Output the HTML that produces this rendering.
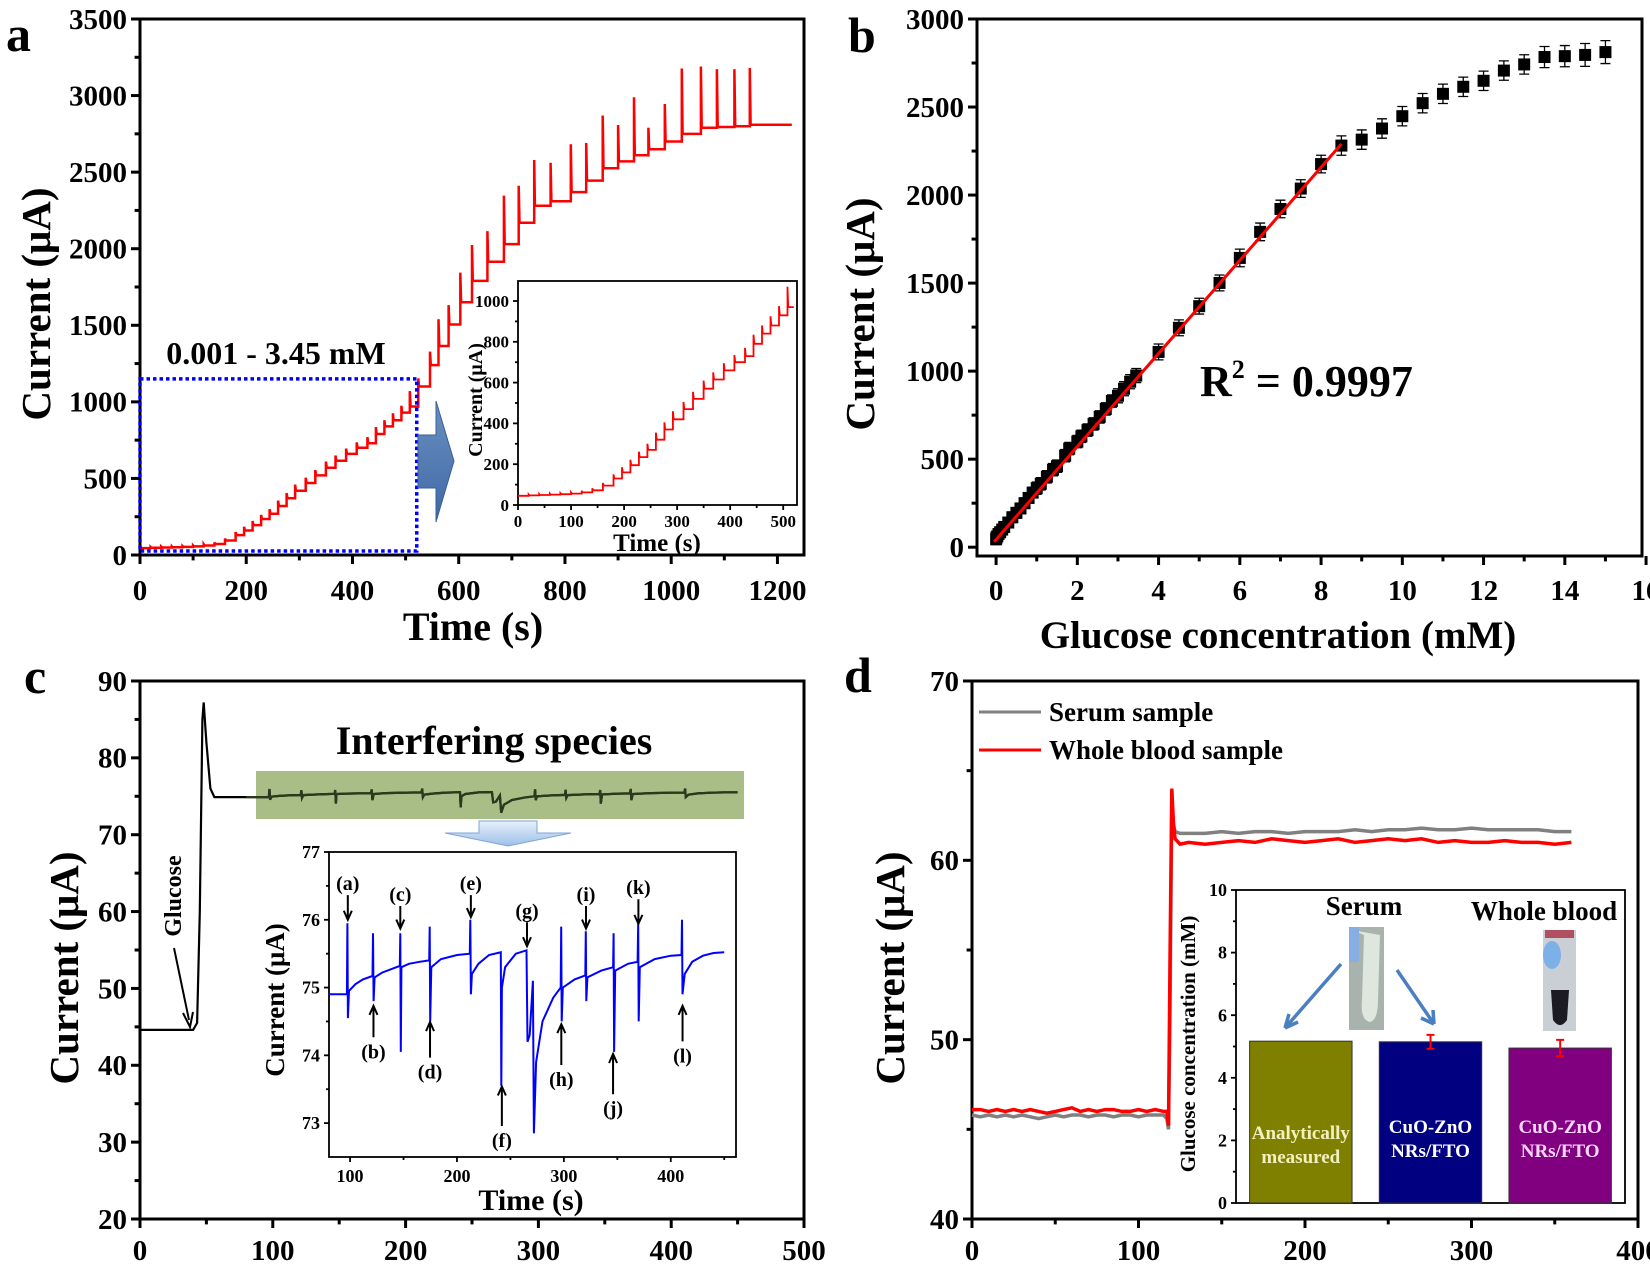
<!DOCTYPE html>
<html><head><meta charset="utf-8"><style>
html,body{margin:0;padding:0;background:#fff;overflow:hidden}
svg{display:block}
text{font-family:"Liberation Serif",serif;font-weight:bold}
</style></head><body>
<svg id="fig" width="1650" height="1267" viewBox="0 0 1650 1267" xmlns="http://www.w3.org/2000/svg">
<defs>
<linearGradient id="ga" x1="0" y1="0" x2="0" y2="1"><stop offset="0" stop-color="#6a8fc0"/><stop offset="1" stop-color="#3f6aa6"/></linearGradient>
<linearGradient id="gc" x1="0" y1="0" x2="0" y2="1"><stop offset="0" stop-color="#e8f1fb"/><stop offset="1" stop-color="#9cc0e8"/></linearGradient>
</defs>
</svg>
<script>
// ---------- Panel a data ----------
const aStepT = [20,40,60,80,100,120,140,160,180,196,212,228,244,260,276,292,312,330,350,368,388,408,428,444,460,476,492,508,524,546,562,581,603,625,654,685,713,742,773,811,840,871,900,930,957,988,1020,1056,1086,1119,1148];
const aLevel = [47,49,51,53,56,62,72,95,130,160,195,235,270,320,370,420,470,520,570,615,660,700,730,790,840,880,930,970,1100,1240,1365,1505,1650,1790,1915,2030,2170,2280,2310,2370,2445,2525,2570,2610,2650,2700,2750,2790,2795,2800,2810];
const aPeak = [52,54,56,58,62,70,82,108,150,185,222,262,300,355,405,460,505,555,610,650,695,735,770,835,880,925,975,1070,1153,1328,1540,1632,1844,2024,2115,2347,2411,2579,2561,2682,2690,2870,2808,2989,2790,2945,3177,3190,3172,3172,3180];
const aStart = [0,45];
const aEnd = [1227,2810];
const aBox = [0,521,26,1150];
const aXTicks = [0,200,400,600,800,1000,1200];
const aYTicks = [0,500,1000,1500,2000,2500,3000,3500];
const aiXTicks = [0,100,200,300,400,500];
const aiYTicks = [0,200,400,600,800,1000];
// ---------- Panel b data ----------
const bX = [0.001,0.01,0.03,0.06,0.1,0.15,0.2,0.3,0.4,0.5,0.6,0.7,0.8,0.9,1.0,1.1,1.25,1.4,1.5,1.7,1.8,2.0,2.1,2.25,2.4,2.55,2.7,2.85,3.0,3.15,3.3,3.45,4,4.5,5,5.5,6,6.5,7,7.5,8,8.5,9,9.5,10,10.5,11,11.5,12,12.5,13,13.5,14,14.5,15];
const bY = [45,55,62,75,85,100,115,140,170,195,220,250,280,310,335,360,400,440,460,520,560,600,630,665,700,740,785,830,860,900,940,975,1109,1246,1369,1501,1643,1791,1921,2037,2176,2281,2315,2378,2448,2522,2575,2615,2649,2707,2742,2784,2789,2796,2812];
const bErr = [30,30,30,30,30,30,30,30,30,30,30,30,30,30,35,35,35,35,35,35,35,35,35,35,35,35,35,35,40,40,40,40,45,45,45,45,50,50,50,50,50,55,55,55,55,55,55,55,55,55,55,60,60,65,65];
const bFitX = [-0.05,8.5];
const bFitY = [30,2290];
const bXTicks = [0,2,4,6,8,10,12,14,16];
const bYTicks = [0,500,1000,1500,2000,2500,3000];
// ---------- Panel c data ----------
const cGluT = [0,40,43,45,47,48,50,53,56,80];
const cGluY = [44.6,44.6,45.5,60,85,87.2,82,76,74.9,74.9];
const cT = [80,97,97.5,98,99,105,112,121,121.5,122,123,130,140,146.5,147,147.5,148,155,165,174,174.5,175,176,185,200,212,212.5,213,214,220,230,241,241.5,242,245,255,265,266,268,271,272,274,280,290,297,297.5,298,299,310,320,320.5,321,322,335,346,346.5,347,348,360,369,369.5,370,371,385,400,410,410.5,411,413,420,430,440,450];
const cY = [74.9,74.9,75.95,74.55,74.95,75.05,75.12,75.17,75.8,74.8,75.15,75.22,75.28,75.32,75.8,74.05,75.3,75.35,75.38,75.4,75.9,74.5,75.3,75.42,75.48,75.5,76.0,74.9,75.2,75.35,75.48,75.52,73.55,75.0,75.3,75.5,75.55,74.2,74.3,75.1,72.85,73.9,74.5,74.85,75.0,75.9,74.5,75.0,75.12,75.18,75.83,74.8,75.15,75.25,75.3,75.8,74.05,75.25,75.35,75.38,75.95,74.5,75.3,75.42,75.47,75.48,76.0,74.9,75.2,75.38,75.47,75.51,75.52];
const cLabels = ['(a)','(b)','(c)','(d)','(e)','(f)','(g)','(h)','(i)','(j)','(k)','(l)'];
const cLabT = [97.9,121.9,147,174.8,213,242,265.5,297.6,320.7,346,369.7,411];
const cLabY = [76.54,74.06,76.38,73.76,76.54,72.75,76.14,73.65,76.38,73.22,76.48,74.0];
const cTipY = [76.0,74.73,75.87,74.49,76.04,73.54,75.61,74.46,75.87,74.02,75.94,74.73];
const cXTicks = [0,100,200,300,400,500];
const cYTicks = [20,30,40,50,60,70,80,90];
const ciXTicks = [100,200,300,400];
const ciYTicks = [73,74,75,76,77];
// ---------- Panel d data ----------
const dT = [0,5,10,15,20,25,30,35,40,45,50,55,60,65,70,75,80,85,90,95,100,105,110,115,117,118,119,120,121,122,125,130,140,150,160,170,180,190,200,210,220,230,240,250,260,270,280,290,300,310,320,330,340,350,360];
const dSerum = [45.8,45.7,45.8,45.7,45.8,45.7,45.8,45.7,45.6,45.7,45.8,45.7,45.8,45.8,45.7,45.8,45.8,45.7,45.8,45.8,45.7,45.8,45.8,45.8,45.6,45.0,52,63.2,62,61.6,61.5,61.5,61.5,61.6,61.5,61.6,61.6,61.5,61.6,61.6,61.6,61.7,61.6,61.7,61.7,61.8,61.7,61.7,61.8,61.7,61.7,61.7,61.7,61.6,61.6];
const dBlood = [46.1,46.1,46.0,46.1,46.0,46.1,46.0,46.1,46.0,45.9,46.0,46.1,46.2,46.0,46.1,46.0,46.1,46.1,46.0,46.0,46.1,46.0,46.1,46.0,46.0,45.2,55,64,62,61.2,60.9,61.0,60.9,61.0,61.1,61.0,61.2,61.1,61.0,61.1,61.2,61.0,61.1,61.2,61.1,61.2,61.0,61.1,61.0,61.0,61.1,61.0,61.0,60.9,61.0];
const dXTicks = [0,100,200,300,400];
const dYTicks = [40,50,60,70];
const dBarNames = ['Analytically measured','CuO-ZnO NRs/FTO (serum)','CuO-ZnO NRs/FTO (whole blood)'];
const dBarVals = [5.17,5.15,4.95];
const dBarErr = [0,0.22,0.26];
const dBarColors = ['#808000','#000080','#800080'];
const diYTicks = [0,2,4,6,8,10];

const NS='http://www.w3.org/2000/svg';
const svg=document.getElementById('fig');
function el(tag,attrs,parent){const e=document.createElementNS(NS,tag);for(const k in attrs)e.setAttribute(k,attrs[k]);(parent||svg).appendChild(e);return e;}
function txt(s,attrs,parent){const e=el('text',attrs,parent);e.textContent=s;return e;}
function sc(d0,d1,r0,r1){return v=>r0+(v-d0)/(d1-d0)*(r1-r0);}

function axes(name,P,o){
  const g=el('g',{});
  
  
  const fr=el('rect',{x:P.x0,y:P.y0,width:P.x1-P.x0,height:P.y1-P.y0,fill:'none',stroke:'#000','stroke-width':o.lw},g);
  
  
  const X=sc(P.xd[0],P.xd[1],P.x0,P.x1),Y=sc(P.yd[0],P.yd[1],P.y1,P.y0);
  if(o.xt){
    const step=o.xt[1]-o.xt[0];
    o.xt.forEach((v,i)=>{
      const x=X(v);
      const t=el('line',{x1:x,x2:x,y1:P.y1,y2:P.y1+o.tl,stroke:'#000','stroke-width':o.lw},g);
      
      
      const mv=v+step/2;
      if(X(mv)<P.x1-2){const m=el('line',{x1:X(mv),x2:X(mv),y1:P.y1,y2:P.y1+o.tl*0.6,stroke:'#000','stroke-width':o.lw},g);
      
      }
      const l=txt(String(v),{x:x,y:o.xly,'text-anchor':'middle','font-size':o.fs},g);
      
      
    });
  }
  const ys=o.yt[1]-o.yt[0];
  o.yt.forEach(v=>{
    const y=Y(v);
    const t=el('line',{x1:P.x0-o.tl,x2:P.x0,y1:y,y2:y,stroke:'#000','stroke-width':o.lw},g);
    
    
    const mv=v+ys/2;
    if(Y(mv)>P.y0+2){const m=el('line',{x1:P.x0-o.tl*0.6,x2:P.x0,y1:Y(mv),y2:Y(mv),stroke:'#000','stroke-width':o.lw},g);
    
    }
    const l=txt(String(v),{x:P.x0-o.tl-4,y:y+o.fs*0.34,'text-anchor':'end','font-size':o.fs},g);
    
    
  });
  return {X,Y};
}
function path(pts,attrs){return el('path',Object.assign({d:'M'+pts.map(p=>p[0].toFixed(1)+','+p[1].toFixed(1)).join('L'),fill:'none'},attrs));}

// ================= PANEL A =================
const PA={x0:140,x1:804,y0:19,y1:555,xd:[0,1250],yd:[0,3500]};
const A=axes('panel-a',PA,{lw:3,tl:9,fs:29,xt:aXTicks,xly:600,yt:aYTicks});
function aPts(X,Y,tmax){
  const p=[[X(aStart[0]),Y(aStart[1])]];let lv=aStart[1];
  for(let i=0;i<aStepT.length;i++){
    const t=aStepT[i]; if(t>tmax)break;
    p.push([X(t),Y(lv)]);p.push([X(t),Y(aPeak[i])]);p.push([X(t+1.5),Y(aLevel[i])]);lv=aLevel[i];
  }
  const te=Math.min(aEnd[0],tmax);p.push([X(te),Y(tmax<aEnd[0]?lv:aEnd[1])]);return p;
}
const aCurve=path(aPts(A.X,A.Y,1300),{stroke:'#ff0000','stroke-width':2.5});


const aRect=el('rect',{x:A.X(aBox[0]),y:A.Y(aBox[3]),width:A.X(aBox[1])-A.X(aBox[0]),height:A.Y(aBox[2])-A.Y(aBox[3]),fill:'none',stroke:'#0000ff','stroke-width':3.5,'stroke-dasharray':'3.5 3'});


const aRange=txt('0.001 - 3.45 mM',{x:276,y:364,'text-anchor':'middle','font-size':32});


const aArrow=el('polygon',{points:'418,435 436,435 436,401 454,461 436,522 436,488 418,488',fill:'url(#ga)',stroke:'#3a5f95','stroke-width':1});


const aLet=txt('a',{x:6,y:51,'font-size':50});


const aYT=txt('Current (μA)',{x:0,y:0,'text-anchor':'middle','font-size':41,transform:'translate(50,304) rotate(-90)'});


const aXT=txt('Time (s)',{x:473,y:640,'text-anchor':'middle','font-size':40});


// inset a
const PAI={x0:518,x1:797,y0:281,y1:505,xd:[0,526],yd:[0,1098]};
const aiBg=el('rect',{x:PAI.x0,y:PAI.y0,width:PAI.x1-PAI.x0,height:PAI.y1-PAI.y0,fill:'#fff'});


const AI=axes('panel-a-inset',PAI,{lw:1.8,tl:5,fs:17,xt:aiXTicks,xly:527,yt:aiYTicks});
const aiCurve=path(aPts(AI.X,AI.Y,520),{stroke:'#ff0000','stroke-width':1.8});


const aiXT=txt('Time (s)',{x:657,y:551,'text-anchor':'middle','font-size':25});


const aiYT=txt('Current (μA)',{x:0,y:0,'text-anchor':'middle','font-size':20,transform:'translate(482,400) rotate(-90)'});



// ================= PANEL B =================
const PB={x0:977,x1:1642,y0:19,y1:556,xd:[-0.47,15.9],yd:[-50,3000]};
const B=axes('panel-b',PB,{lw:3,tl:9,fs:29,xt:bXTicks,xly:600,yt:bYTicks});
bX.forEach((v,i)=>{
  const x=B.X(v),y=B.Y(bY[i]),e1=B.Y(bY[i]+bErr[i]),e2=B.Y(bY[i]-bErr[i]);
  const eb=el('path',{d:`M${x},${e1}L${x},${e2}M${x-5},${e1}L${x+5},${e1}M${x-5},${e2}L${x+5},${e2}`,stroke:'#000','stroke-width':1.3,fill:'none'});
  
  
  const s=el('rect',{x:x-6,y:y-6,width:12,height:12,fill:'#000'});
  
  
});
const bFit=el('line',{x1:B.X(bFitX[0]),y1:B.Y(bFitY[0]),x2:B.X(bFitX[1]),y2:B.Y(bFitY[1]),stroke:'#ff0000','stroke-width':3});


const bR=el('text',{x:1200,y:396,'font-size':44});
bR.innerHTML='R<tspan font-size="26" dy="-18">2</tspan><tspan dy="18"> = 0.9997</tspan>';


const bLet=txt('b',{x:848,y:52,'font-size':50});


const bYT=txt('Current (μA)',{x:0,y:0,'text-anchor':'middle','font-size':41,transform:'translate(874,314) rotate(-90)'});


const bXT=txt('Glucose concentration (mM)',{x:1278,y:648,'text-anchor':'middle','font-size':39});



// ================= PANEL C =================
const PC={x0:140,x1:804,y0:681,y1:1219,xd:[0,500],yd:[20,90]};
const C=axes('panel-c',PC,{lw:3,tl:9,fs:29,xt:cXTicks,xly:1260,yt:cYTicks});
const cBox=el('rect',{x:256,y:771,width:488,height:48,fill:'#a9bd86'});


const cPts=cGluT.map((t,i)=>[C.X(t),C.Y(cGluY[i])]).concat(cT.map((t,i)=>[C.X(t),C.Y(cY[i])]));
const cMain=path(cPts,{stroke:'#000','stroke-width':2.2});


const cOver=path(cT.map((t,i)=>[C.X(t),C.Y(cY[i])]),{stroke:'#2b3a1c','stroke-width':2.2});


const cIS=txt('Interfering species',{x:494,y:754,'text-anchor':'middle','font-size':40});


const cArr=el('polygon',{points:'479,821 537,821 537,833 571,833 508,846 445,833 479,833',fill:'url(#gc)',stroke:'#7fa6d6','stroke-width':1});


const cGl=txt('Glucose',{x:0,y:0,'text-anchor':'middle','font-size':24,transform:'translate(181,896) rotate(-90)'});


const cGa=el('path',{d:'M174,948 L189,1020 M183,1013 L190,1027 L193,1012',stroke:'#000','stroke-width':2,fill:'none'});


const cLet=txt('c',{x:24,y:693,'font-size':50});


const cYT=txt('Current (μA)',{x:0,y:0,'text-anchor':'middle','font-size':41,transform:'translate(78,968) rotate(-90)'});


// inset c
const PCI={x0:329,x1:736,y0:852,y1:1157,xd:[80.3,461],yd:[72.5,77]};
const CI=axes('panel-c-inset',PCI,{lw:1.8,tl:5,fs:18,xt:ciXTicks,xly:1182,yt:ciYTicks});
const ciCurve=path(cT.map((t,i)=>[CI.X(t),CI.Y(cY[i])]),{stroke:'#0000ff','stroke-width':2});


cLabels.forEach((s,i)=>{
  const x=CI.X(cLabT[i]),ly=CI.Y(cLabY[i]),ty=CI.Y(cTipY[i]);
  const up=cLabY[i]>cTipY[i];
  const l=txt(s,{x:x,y:ly+7,'text-anchor':'middle','font-size':20});
  
  
  const ys=up?ly+12:ly-14;
  const d=up?`M${x},${ys}L${x},${ty}M${x-4},${ty-9}L${x},${ty}L${x+4},${ty-9}`:`M${x},${ys}L${x},${ty}M${x-4},${ty+9}L${x},${ty}L${x+4},${ty+9}`;
  const a=el('path',{d:d,stroke:'#000','stroke-width':2,fill:'none'});
  
  
});
const ciXT=txt('Time (s)',{x:531,y:1210,'text-anchor':'middle','font-size':30});


const ciYT=txt('Current (μA)',{x:0,y:0,'text-anchor':'middle','font-size':27,transform:'translate(284,1000) rotate(-90)'});



// ================= PANEL D =================
const PD={x0:972,x1:1638,y0:681,y1:1219,xd:[0,400],yd:[40,70]};
const D=axes('panel-d',PD,{lw:3,tl:9,fs:29,xt:dXTicks,xly:1260,yt:dYTicks});
const dS=path(dT.map((t,i)=>[D.X(t),D.Y(dSerum[i])]),{stroke:'#808080','stroke-width':3.5});


const dB=path(dT.map((t,i)=>[D.X(t),D.Y(dBlood[i])]),{stroke:'#ff0000','stroke-width':3.5});


const lg1=el('line',{x1:979,x2:1041,y1:712,y2:712,stroke:'#808080','stroke-width':3});


const lt1=txt('Serum sample',{x:1049,y:721,'font-size':27});


const lg2=el('line',{x1:979,x2:1041,y1:750,y2:750,stroke:'#ff0000','stroke-width':3});


const lt2=txt('Whole blood sample',{x:1049,y:759,'font-size':27});


const dLet=txt('d',{x:844,y:692,'font-size':50});


const dYT=txt('Current (μA)',{x:0,y:0,'text-anchor':'middle','font-size':41,transform:'translate(904,968) rotate(-90)'});


// inset d
const PDI={x0:1236,x1:1625,y0:890,y1:1203,xd:[0,3],yd:[0,10]};
const diBg=el('rect',{x:PDI.x0,y:PDI.y0,width:PDI.x1-PDI.x0,height:PDI.y1-PDI.y0,fill:'#fff'});


const DI=axes('panel-d-inset',PDI,{lw:1.8,tl:5,fs:18,yt:diYTicks});
const barText=[['Analytically','measured'],['CuO-ZnO','NRs/FTO'],['CuO-ZnO','NRs/FTO']];
const barTextCol=['#f3f0c0','#ffffff','#ffd8ff'];
dBarVals.forEach((v,i)=>{
  const xc=DI.X(i+0.5),w=DI.X(0.79)-DI.X(0);
  const r=el('rect',{x:xc-w/2,y:DI.Y(v),width:w,height:DI.Y(0)-DI.Y(v),fill:dBarColors[i],stroke:'#333','stroke-width':1});
  
  
  if(dBarErr[i]>0){const e1=DI.Y(v+dBarErr[i]),e2=DI.Y(v-dBarErr[i]);
    const eb=el('path',{d:`M${xc},${e1}L${xc},${e2}M${xc-4},${e1}L${xc+4},${e1}M${xc-4},${e2}L${xc+4},${e2}`,stroke:'#ff0000','stroke-width':2,fill:'none'});
    
    }
  barText[i].forEach((s,j)=>{const t=txt(s,{x:xc,y:(i==0?1139:1133)+j*24,'text-anchor':'middle','font-size':19,fill:barTextCol[i]});
    
    });
});
const diYT=txt('Glucose concentration (mM)',{x:0,y:0,'text-anchor':'middle','font-size':21,transform:'translate(1195,1044) rotate(-90)'});


const dSer=txt('Serum',{x:1364,y:915,'text-anchor':'middle','font-size':27});


const dWb=txt('Whole blood',{x:1544,y:920,'text-anchor':'middle','font-size':27});


const tube1=el('g',{});


el('rect',{x:1349,y:927,width:35,height:103,fill:'#a9b3ad'},tube1);
el('path',{d:'M1352,930 L1364,935 L1362,1000 Q1360,1020 1370,1022 Q1378,1020 1378,1000 L1380,935 Z',fill:'#dfe6dd'},tube1);
el('rect',{x:1349,y:927,width:10,height:35,fill:'#86aee0'},tube1);
const tube2=el('g',{});


el('rect',{x:1543,y:930,width:33,height:101,fill:'#c9cfd4'},tube2);
el('rect',{x:1545,y:930,width:29,height:8,fill:'#b05060'},tube2);
el('ellipse',{cx:1552,cy:955,rx:9,ry:14,fill:'#7cb0e8'},tube2);
el('path',{d:'M1551,990 L1569,990 L1567,1020 Q1560,1030 1553,1020 Z',fill:'#1c1a22'},tube2);
const ar1=el('path',{d:'M1341,964 L1285,1028 M1285,1028 L1289,1014 M1285,1028 L1298,1022',stroke:'#4a7fc0','stroke-width':3.5,fill:'none'});


const ar2=el('path',{d:'M1397,970 L1434,1024 M1434,1024 L1421,1018 M1434,1024 L1433,1010',stroke:'#4a7fc0','stroke-width':3.5,fill:'none'});


</script>
</body></html>
